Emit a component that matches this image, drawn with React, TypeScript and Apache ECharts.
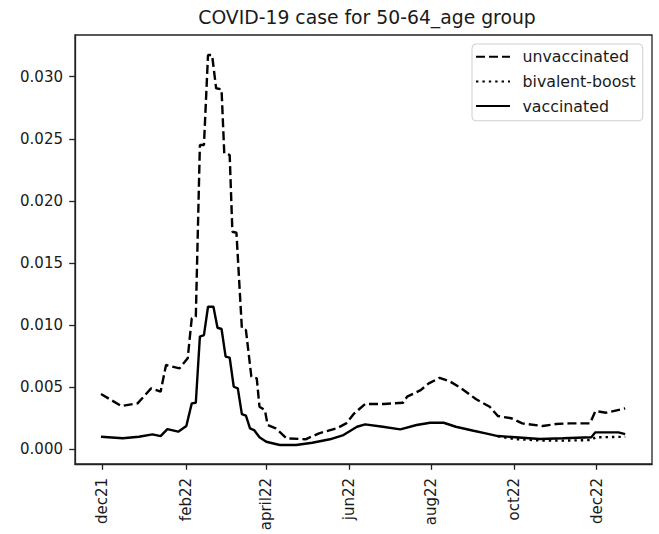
import React, { useEffect, useRef } from "react";
import * as echarts from "echarts";

const xTickDates = ["2021-12-01", "2022-02-01", "2022-04-01", "2022-06-01", "2022-08-01", "2022-10-01", "2022-12-01"];
const xTickLabels = ["dec21", "feb22", "april22", "jun22", "aug22", "oct22", "dec22"];
const yTicks = [0, 0.005, 0.01, 0.015, 0.02, 0.025, 0.03];
const yTickLabels = ["0.000", "0.005", "0.010", "0.015", "0.020", "0.025", "0.030"];

const unvaxDates = [
  "2021-11-30", "2021-12-15", "2021-12-27", "2022-01-06", "2022-01-13", "2022-01-17", "2022-01-27", "2022-02-02",
  "2022-02-05", "2022-02-08", "2022-02-11", "2022-02-14", "2022-02-17", "2022-02-20", "2022-02-23", "2022-02-27",
  "2022-03-01", "2022-03-05", "2022-03-07", "2022-03-10", "2022-03-14", "2022-03-17", "2022-03-21", "2022-03-25",
  "2022-03-27", "2022-03-31", "2022-04-02", "2022-04-08", "2022-04-16", "2022-04-30", "2022-05-10", "2022-05-23",
  "2022-05-30", "2022-06-05", "2022-06-13", "2022-06-27", "2022-07-11", "2022-07-14", "2022-07-24", "2022-07-30",
  "2022-08-07", "2022-08-15", "2022-08-23", "2022-09-03", "2022-09-13", "2022-09-19", "2022-09-29", "2022-10-07",
  "2022-10-22", "2022-11-01", "2022-11-11", "2022-11-26", "2022-11-30", "2022-12-08", "2022-12-22",
];
const unvaxValues = [
  0.00445, 0.00349, 0.0037, 0.00491, 0.00464, 0.00679, 0.00652, 0.00733,
  0.01055, 0.01068, 0.0245, 0.0245, 0.03175, 0.03175, 0.02907, 0.02899,
  0.02383, 0.0237, 0.01752, 0.01744, 0.00974, 0.0096, 0.00585, 0.00572,
  0.00343, 0.00316, 0.00196, 0.00169, 0.00089, 0.00081, 0.00129, 0.00169,
  0.00209, 0.0029, 0.00365, 0.00365, 0.00375, 0.00424, 0.00477, 0.00531,
  0.00576, 0.00544, 0.00491, 0.00403, 0.00343, 0.00268, 0.0025, 0.00209,
  0.00188, 0.00204, 0.00209, 0.00209, 0.00308, 0.00295, 0.0033,
];

const boostDates = ["2022-09-19", "2022-10-02", "2022-10-20", "2022-11-06", "2022-11-27", "2022-11-30", "2022-12-17", "2022-12-22"];
const boostValues = [0.00105, 0.00082, 0.00072, 0.0007, 0.00075, 0.00097, 0.001, 0.001];

const vaxDates = [
  "2021-11-30", "2021-12-16", "2021-12-28", "2022-01-07", "2022-01-13", "2022-01-18", "2022-01-26", "2022-02-01",
  "2022-02-05", "2022-02-08", "2022-02-11", "2022-02-14", "2022-02-17", "2022-02-21", "2022-02-24", "2022-02-27",
  "2022-03-02", "2022-03-05", "2022-03-08", "2022-03-11", "2022-03-14", "2022-03-17", "2022-03-20", "2022-03-23",
  "2022-03-27", "2022-04-01", "2022-04-11", "2022-04-23", "2022-05-05", "2022-05-18", "2022-05-28", "2022-06-07",
  "2022-06-13", "2022-06-26", "2022-07-09", "2022-07-21", "2022-07-31", "2022-08-10", "2022-08-19", "2022-09-01",
  "2022-09-10", "2022-09-19", "2022-10-02", "2022-10-20", "2022-11-06", "2022-11-27", "2022-11-30", "2022-12-17",
  "2022-12-22",
];
const vaxValues = [
  0.00101, 0.00089, 0.00101, 0.00121, 0.00107, 0.00163, 0.00142, 0.00188,
  0.0037, 0.00375, 0.00907, 0.0092, 0.01148, 0.01148, 0.00979, 0.00969,
  0.00746, 0.00738, 0.00504, 0.00491, 0.00284, 0.00271, 0.00169, 0.00155,
  0.00097, 0.00061, 0.00035, 0.00035, 0.00053, 0.00081, 0.00115, 0.00182,
  0.00201, 0.00182, 0.00161, 0.00196, 0.00214, 0.00214, 0.00182, 0.0015,
  0.00129, 0.00107, 0.00097, 0.00083, 0.00089, 0.00097, 0.00137, 0.00137,
  0.00123,
];

const ts = (d: string) => {
  const [y, m, dd] = d.split("-").map(Number);
  return Date.UTC(y, m - 1, dd);
};
const pairs = (dates: string[], vals: number[]) => dates.map((d, i) => [ts(d), vals[i]]);

const FONT = "DejaVu Sans";
const INK = "#1a1a1a";

export default function App() {
  const ref = useRef<HTMLDivElement>(null);
  useEffect(() => {
    if (!ref.current) return;
    const chart = echarts.init(ref.current, null, { renderer: "svg" });
    const tickTs = xTickDates.map(ts);
    const day = 86400000;
    const origin = ts("2021-12-01");
    chart.setOption({
      animation: false,
      backgroundColor: "#fff",
      title: {
        text: "COVID-19 case for 50-64_age group",
        left: 362,
        textAlign: "center",
        top: 3,
        textStyle: { fontFamily: FONT, fontSize: 18.8, fontWeight: "normal", color: INK },
      },
      legend: {
        orient: "vertical",
        left: 472,
        top: 44,
        padding: [4.7, 7, 6.7, 3],
        itemWidth: 34,
        itemHeight: 14,
        itemGap: 8.7,
        borderColor: "#cfcfcf",
        borderWidth: 1,
        borderRadius: 4,
        backgroundColor: "rgba(255,255,255,0.8)",
        itemStyle: { opacity: 0 },
        textStyle: { fontFamily: FONT, fontSize: 15.8, lineHeight: 16, color: INK, padding: [0, 0, 0, 7.5] },
        data: ["unvaccinated", "bivalent-boost", "vaccinated"],
      },
      grid: {
        left: 75,
        top: 35,
        right: 7,
        bottom: 70,
        show: true,
        borderColor: "#222",
        borderWidth: 1.3,
        backgroundColor: "transparent",
      },
      xAxis: {
        type: "value",
        min: origin - 20.2 * day,
        max: origin + 405.8 * day,
        axisLine: { show: true, onZero: false, lineStyle: { color: "#222", width: 1.3 } },
        axisTick: { show: true, customValues: tickTs, length: 5.8, lineStyle: { color: "#222", width: 1.3 } },
        axisLabel: {
          customValues: tickTs,
          rotate: 90,
          margin: 14,
          fontFamily: FONT,
          fontSize: 15,
          color: INK,
          formatter: (v: number) => {
            const i = tickTs.indexOf(v);
            return i >= 0 ? xTickLabels[i] : "";
          },
        },
        splitLine: { show: false },
      },
      yAxis: {
        type: "value",
        min: -0.00118,
        max: 0.03336,
        axisLine: { show: true, onZero: false, lineStyle: { color: "#222", width: 1.3 } },
        axisTick: { show: true, customValues: yTicks, length: 5.8, lineStyle: { color: "#222", width: 1.3 } },
        axisLabel: {
          customValues: yTicks,
          margin: 12,
          fontFamily: FONT,
          fontSize: 15,
          color: INK,
          formatter: (v: number) => {
            const i = yTicks.findIndex((t) => Math.abs(t - v) < 1e-9);
            return i >= 0 ? yTickLabels[i] : "";
          },
        },
        splitLine: { show: false },
      },
      series: [
        {
          name: "unvaccinated",
          type: "line",
          data: pairs(unvaxDates, unvaxValues),
          symbol: "none",
          color: "#000",
          lineStyle: { color: "#000", width: 2.4, type: [9, 4] },
        },
        {
          name: "bivalent-boost",
          type: "line",
          data: pairs(boostDates, boostValues),
          symbol: "none",
          color: "#000",
          lineStyle: { color: "#000", width: 2.4, type: [2.4, 4] },
        },
        {
          name: "vaccinated",
          type: "line",
          data: pairs(vaxDates, vaxValues),
          symbol: "none",
          color: "#000",
          lineStyle: { color: "#000", width: 2.4, type: "solid" },
        },
      ],
    });
    return () => chart.dispose();
  }, []);
  return <div ref={ref} style={{ width: 659, height: 534, position: "absolute", left: 0, top: 0 }} />;
}
